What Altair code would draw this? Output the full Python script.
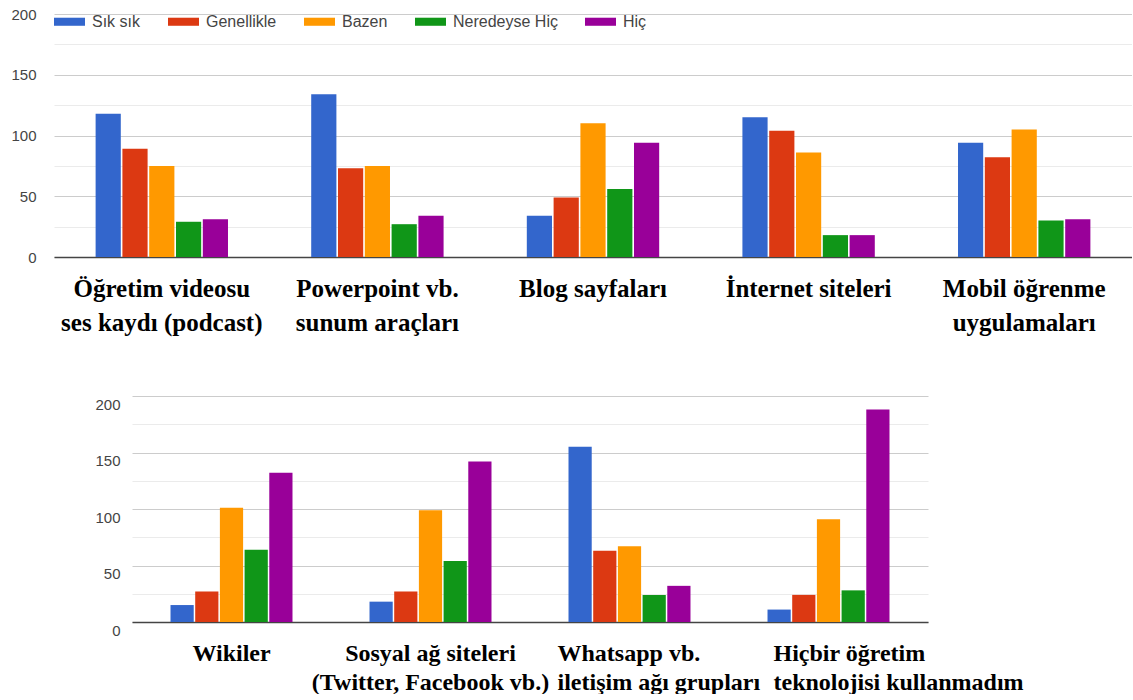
import altair as alt
import pandas as pd

# Response categories (legend order) and their colours
series = ["Sık sık", "Genellikle", "Bazen", "Neredeyse Hiç", "Hiç"]
colors = ["#3366cc", "#dc3912", "#ff9900", "#109618", "#990099"]

# Upper panel: technology types (multi-line labels) and counts per response
top_labels = [
    ["Öğretim videosu", "ses kaydı (podcast)"],
    ["Powerpoint vb.", "sunum araçları"],
    ["Blog sayfaları"],
    ["İnternet siteleri"],
    ["Mobil öğrenme", "uygulamaları"],
]
top_sik_sik = [118, 134, 34, 115, 94]
top_genellikle = [89, 73, 49, 104, 82]
top_bazen = [75, 75, 110, 86, 105]
top_neredeyse_hic = [29, 27, 56, 18, 30]
top_hic = [31, 34, 94, 18, 31]

# Lower panel
bottom_labels = [
    ["Wikiler"],
    ["Sosyal ağ siteleri", "(Twitter, Facebook vb.)"],
    ["Whatsapp vb.", "iletişim ağı grupları"],
    ["Hiçbir öğretim", "teknolojisi kullanmadım"],
]
bottom_sik_sik = [15, 18, 155, 11]
bottom_genellikle = [27, 27, 63, 24]
bottom_bazen = [101, 99, 67, 91]
bottom_neredeyse_hic = [64, 54, 24, 28]
bottom_hic = [132, 142, 32, 188]

y_ticks = [0, 25, 50, 75, 100, 125, 150, 175, 200]


def long_table(labels, columns):
    cats = ["\n".join(lines) for lines in labels]
    rows = []
    for name, vals in zip(series, columns):
        for cat, v in zip(cats, vals):
            rows.append({"category": cat, "series": name, "value": v})
    return pd.DataFrame(rows), cats


top_df, top_cats = long_table(
    top_labels, [top_sik_sik, top_genellikle, top_bazen, top_neredeyse_hic, top_hic]
)
bottom_df, bottom_cats = long_table(
    bottom_labels,
    [bottom_sik_sik, bottom_genellikle, bottom_bazen, bottom_neredeyse_hic, bottom_hic],
)

no_frame = alt.ViewBackground(stroke="transparent", strokeWidth=0)


def panel(df, cats, width, height, xscale, cat_font_size, cat_line_height,
          cat_padding, cat_align, cat_offset, y_label_padding, y_label_offset, legend):
    x_axis = alt.Axis(
        title=None,
        labelExpr="split(datum.label, '\\n')",
        labelFont="Liberation Serif",
        labelFontWeight="bold",
        labelFontSize=cat_font_size,
        labelLineHeight=cat_line_height,
        labelColor="#000000",
        labelBaseline="alphabetic",
        labelPadding=cat_padding,
        labelAlign=cat_align,
        labelOffset=cat_offset,
        labelAngle=0,
        labelLimit=0,
        labelOverlap=False,
        ticks=False,
        grid=False,
        domainColor="#444444",
        domainWidth=1.5,
    )
    y_axis = alt.Axis(
        title=None,
        values=y_ticks,
        labelExpr="datum.value % 50 === 0 ? datum.label : ''",
        labelFont="Liberation Sans",
        labelFontSize=15,
        labelColor="#444444",
        labelPadding=y_label_padding,
        labelOffset=y_label_offset,
        domain=False,
        ticks=False,
        grid=True,
        gridColor={
            "condition": {"test": "datum.value % 50 === 0", "value": "#cccccc"},
            "value": "#ebebeb",
        },
        gridWidth=1,
    )
    return (
        alt.Chart(df)
        .mark_bar()
        .encode(
            x=alt.X("category:N", sort=cats, scale=xscale, axis=x_axis),
            xOffset=alt.XOffset("series:N", sort=series,
                                scale=alt.Scale(paddingInner=0.06)),
            y=alt.Y("value:Q", scale=alt.Scale(domain=[0, 200], nice=False), axis=y_axis),
            color=alt.Color("series:N", sort=series,
                            scale=alt.Scale(domain=series, range=colors),
                            legend=legend),
        )
        .properties(width=width, height=height, view=no_frame)
    )


legend = alt.Legend(
    title=None,
    orient="none",
    legendX=0,
    legendY=-8,
    direction="horizontal",
    symbolType="M-1,-0.26L1,-0.26L1,0.26L-1,0.26Z",
    symbolSize=961,
    symbolStrokeWidth=0,
    symbolOpacity=1,
    labelFont="Liberation Sans",
    labelFontSize=16,
    labelColor="#444444",
    labelOffset=7,
    columnPadding=27,
    padding=0,
)

top = panel(
    top_df, top_cats, 1078, 243,
    alt.Scale(paddingInner=0.386, paddingOuter=0.193),
    25, 34, 39, "center", 0, 18, 0, legend,
)

# the two right-hand groups of the lower panel have left-aligned label blocks
bottom_align = {"condition": {"test": "datum.index > 0.5", "value": "left"},
                "value": "center"}
bottom_offset = {"expr": "datum.index > 0.8 ? -55 : (datum.index > 0.5 ? -72 : 0)"}

bottom = panel(
    bottom_df, bottom_cats, 796, 226,
    alt.Scale(paddingInner=0.387, paddingOuter=0.1935),
    24, 29, 38, bottom_align, bottom_offset, 12, 8, None,
)

# empty block that indents the lower panel
spacer = (
    alt.Chart(pd.DataFrame({"v": [0]}))
    .mark_point(opacity=0)
    .encode(x=alt.value(0), y=alt.value(0))
    .properties(width=78, height=10, view=no_frame)
)

row = alt.hconcat(spacer, bottom, spacing=0, bounds="flush")

chart = (
    alt.vconcat(top, row, spacing=139, bounds="flush")
    .resolve_scale(color="independent", xOffset="independent")
    .properties(padding={"left": 10, "top": 6, "right": 0, "bottom": 0})
    .configure_view(stroke="transparent", strokeWidth=0)
    .configure(background="white", font="Liberation Sans")
)

chart.save("out.html", embed_options={"renderer": "svg", "actions": False})
